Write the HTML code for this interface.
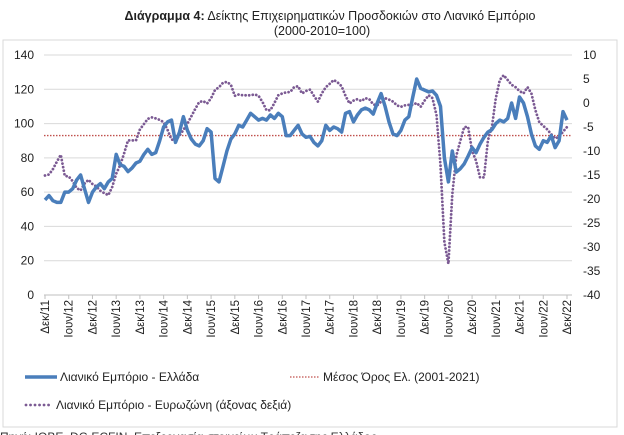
<!DOCTYPE html>
<html><head><meta charset="utf-8"><style>
body{margin:0;width:624px;height:435px;background:#fff;overflow:hidden;font-family:"Liberation Sans","DejaVu Sans",sans-serif;}
svg{display:block}
</style></head><body>
<svg id="c" width="624" height="435" viewBox="0 0 624 435">
<rect x="3" y="40" width="614" height="387" fill="#fff" stroke="#d9d9d9"/>
<text x="330" y="20" text-anchor="middle" font-size="12.5" fill="#222"><tspan font-weight="bold">Διάγραμμα 4:</tspan> Δείκτης Επιχειρηματικών Προσδοκιών στο Λιανικό Εμπόριο</text>
<text x="322" y="35" text-anchor="middle" font-size="12.5" fill="#222">(2000-2010=100)</text>
<g id="grid"></g><g id="series"></g>
<g>
<line x1="25" y1="377" x2="57" y2="377" stroke="#4a7ebb" stroke-width="3.5"/>
<text x="60" y="381" font-size="12" fill="#222">Λιανικό Εμπόριο  - Ελλάδα</text>
<line x1="290" y1="377" x2="320" y2="377" stroke="#c0504d" stroke-width="1.3" stroke-dasharray="1.5 1.5"/>
<text x="323" y="381" font-size="12" fill="#222">Μέσος Όρος Ελ.  (2001-2021)</text>
<line x1="26" y1="405" x2="51" y2="405" stroke="#7b5a93" stroke-width="2.8" stroke-dasharray="0.01 4.5" stroke-linecap="round"/>
<text x="56" y="409" font-size="12" fill="#222">Λιανικό Εμπόριο - Ευρωζώνη (άξονας δεξιά)</text>
</g>
<text x="0" y="441" font-size="12" fill="#333">Πηγή: ΙΟΒΕ, DG ECFIN, Επεξεργασία στοιχείων Τράπεζα της Ελλάδος</text>
</svg>
<script>
const greece=[55.5,58,55,54,54,60,60,62,67,70,62,54,60,63,65,62,66,68,82,76,75,72,74,77,78,82,85,82,83,90,98,101,102,89,95,104,96,91,88,87,90,97,95,68,66,75,84,91,94,99,98,102,106,104,102,103,102,105,103,106,104,93,93,96,99,94,92,92.5,89,87,90,99,96,98,97,95,106,107,101,105,108,109,108,105.5,112,117.5,110,101,94,93,96,102,104,115.5,126,120.5,119.5,118.5,119,116.5,110,80,66,84,71.7,73.6,76.5,81,86,83,88,92,95,96.5,100,102,101,103,112,103,115.5,112,104,94,87,85,90,89,93,86,90,107,102];
const eurozone=[-15.1,-14.9,-13.8,-12.2,-10.8,-15.2,-15.3,-16.3,-17.7,-18.2,-16.8,-16,-16.9,-17.4,-18.3,-18.8,-19.2,-17.5,-14.7,-13,-10.5,-7.8,-7.8,-7.8,-5.5,-4.4,-3.3,-3,-3.2,-3.5,-4,-5.6,-7.6,-7.8,-6.8,-5.6,-4.3,-2.8,-1.2,0.2,0.4,-0.1,1,2.7,3.3,4.2,4.4,3.8,1.5,1.8,1.6,1.6,1.6,1.8,1.5,0.2,-1.5,-1.5,0,1.6,2,2.2,2.3,3.3,3.5,2,2.5,2.8,1.5,0.3,2,3.3,4,4.8,4.3,3.5,1.5,-0.1,0.5,0.8,0.4,1,0.8,-0.3,-0.5,0.3,1,0.7,0.3,-0.5,-0.8,-0.5,-0.4,-0.4,0,-0.8,0.5,1.6,1,-2.5,-13,-29,-33.5,-19,-11,-8,-5,-5,-10,-12,-15.5,-15.5,-7.8,-5,1,4.8,5.8,4.8,3.8,3.3,2.5,2,3.3,2,-1.5,-4,-4.8,-5.5,-6.5,-7.4,-7,-6,-5];
const meanGreece=93;
const leftTicks=[0,20,40,60,80,100,120,140];
const rightTicks=[10,5,0,-5,-10,-15,-20,-25,-30,-35,-40];
const xLabels=["Δεκ/11","Ιουν/12","Δεκ/12","Ιουν/13","Δεκ/13","Ιουν/14","Δεκ/14","Ιουν/15","Δεκ/15","Ιουν/16","Δεκ/16","Ιουν/17","Δεκ/17","Ιουν/18","Δεκ/18","Ιουν/19","Δεκ/19","Ιουν/20","Δεκ/20","Ιουν/21","Δεκ/21","Ιουν/22","Δεκ/22"];
const X0=45,X1=567,Y0=295,Y1=55,PL=44,PR=572;
const n=greece.length;
const xs=i=>X0+(X1-X0)*i/(n-1);
const yl=v=>Y0-(v-0)/(140-0)*(Y0-Y1);
const yr=v=>Y0-(v+40)/50*(Y0-Y1);
const NS="http://www.w3.org/2000/svg";
const grid=document.getElementById('grid'),ser=document.getElementById('series');
function mk(tag,at,parent){const e=document.createElementNS(NS,tag);for(const k in at)e.setAttribute(k,at[k]);parent.appendChild(e);return e;}
leftTicks.forEach(t=>{
  const y=yl(t);
  if(t>0){const g=mk('line',{x1:PL,x2:PR,y1:y,y2:y,stroke:'#d9d9d9','stroke-width':1},grid);
  
  }
  const tx=mk('text',{x:34,y:y+4,'text-anchor':'end','font-size':12,fill:'#222'},grid);tx.textContent=t;
  
  
});
rightTicks.forEach(t=>{
  const tx=mk('text',{x:583,y:yr(t)+4,'font-size':12,fill:'#222'},grid);tx.textContent=t;
  
  
});
const ax=mk('line',{x1:PL,x2:PR,y1:Y0,y2:Y0,stroke:'#bfbfbf','stroke-width':1},grid);


xLabels.forEach((l,k)=>{
  const x=xs(k*6);
  const tk=mk('line',{x1:x,x2:x,y1:Y0,y2:Y0+4,stroke:'#bfbfbf'},grid);
  
  
  const tx=mk('text',{x:0,y:0,'font-size':11.5,fill:'#222','text-anchor':'end',transform:`translate(${x+4},${Y0+5}) rotate(-90)`},grid);tx.textContent=l;
  
  
});
const ml=mk('line',{x1:PL,x2:PR,y1:yl(meanGreece),y2:yl(meanGreece),stroke:'#c0504d','stroke-width':1.3,'stroke-dasharray':'1.5 1.5'},ser);


const ez=mk('path',{d:eurozone.map((v,i)=>(i?'L':'M')+xs(i).toFixed(1)+','+yr(v).toFixed(1)).join(''),fill:'none',stroke:'#7b5a93','stroke-width':2.8,'stroke-dasharray':'0.01 3.6','stroke-linecap':'round'},ser);


const gr=mk('path',{d:greece.map((v,i)=>(i?'L':'M')+xs(i).toFixed(1)+','+yl(v).toFixed(1)).join(''),fill:'none',stroke:'#4a7ebb','stroke-width':3.5,'stroke-linejoin':'round'},ser);


</script>
</body></html>
